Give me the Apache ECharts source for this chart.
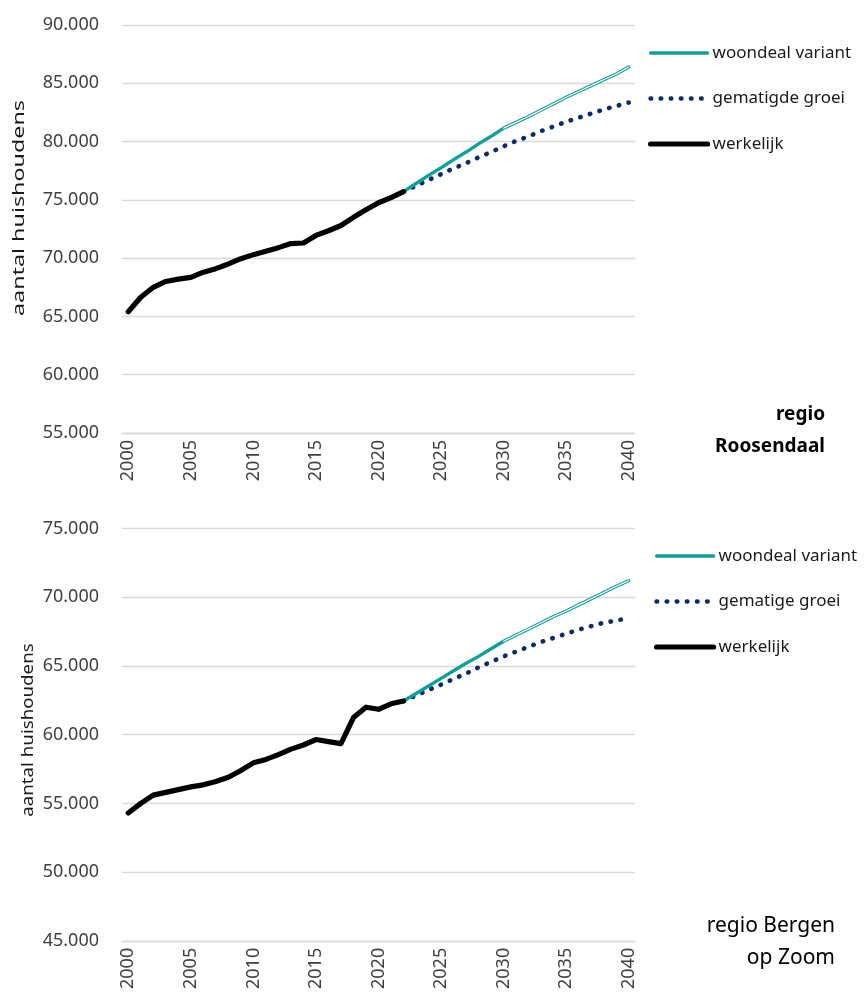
<!DOCTYPE html>
<html>
<head>
<meta charset="utf-8">
<script src="https://cdn.jsdelivr.net/npm/echarts@6/dist/echarts.min.js"></script>
<style>
  html, body { margin: 0; padding: 0; background: #fff; }
  #chart { width: 864px; height: 993px; }
</style>
</head>
<body>
<div id="chart"></div>
<script>
  // categorieen
  const years = [
    '2000', '2001', '2002', '2003', '2004', '2005', '2006', '2007', '2008', '2009',
    '2010', '2011', '2012', '2013', '2014', '2015', '2016', '2017', '2018', '2019',
    '2020', '2021', '2022', '2023', '2024', '2025', '2026', '2027', '2028', '2029',
    '2030', '2031', '2032', '2033', '2034', '2035', '2036', '2037', '2038', '2039', '2040',
  ]

  // regio Roosendaal: werkelijk 2000-2022, prognoses 2022-2040
  const roosWerkelijk = [
    65400, 66650, 67500, 68000, 68200, 68350, 68800, 69100, 69500, 69950,
    70300, 70600, 70900, 71250, 71300, 71950, 72350, 72800, 73500, 74150,
    74750, 75200, 75700,
  ]
  const roosWoondeal = [
    75700, 76400, 77100, 77750, 78450, 79100, 79800, 80450, 81150, 81650,
    82150, 82700, 83250, 83800, 84300, 84800, 85300, 85800, 86400,
  ]
  const roosGematigd = [
    75700, 76200, 76700, 77200, 77700, 78150, 78650, 79100, 79600, 80050,
    80450, 80900, 81300, 81700, 82050, 82400, 82750, 83050, 83350,
  ]

  // regio Bergen op Zoom
  const bozWerkelijk = [
    54300, 55000, 55600, 55800, 56000, 56200, 56350, 56600, 56900, 57400,
    57950, 58200, 58550, 58950, 59250, 59650, 59500, 59350, 61250, 62000,
    61850, 62250, 62450,
  ]
  const bozWoondeal = [
    62450, 63000, 63550, 64100, 64650, 65200, 65700, 66250, 66800, 67250,
    67700, 68150, 68600, 69000, 69450, 69900, 70350, 70800, 71200,
  ]
  const bozGematigd = [
    62450, 62850, 63250, 63650, 64050, 64450, 64900, 65300, 65700, 66050,
    66400, 66750, 67050, 67350, 67650, 67900, 68150, 68300, 68500,
  ]

  // as-instellingen (min, max, stap)
  const roosYTicks = [55000, 90000, 5000]
  const bozYTicks = [45000, 75000, 5000]

  const legendRoos = ['woondeal variant', 'gematigde groei', 'werkelijk']
  const legendBoz = ['woondeal variant', 'gematige groei', 'werkelijk']

  const FONT = '"Noto Sans", "Open Sans", sans-serif'
  const TEAL = '#139e9a'
  const NAVY = '#0b2a66'
  const GRID = '#d9d9d9'

  const PROG_START = years.indexOf('2022')
  const HOLLOW_FROM = years.indexOf('2030') - PROG_START

  function padded(values, startIdx) {
    return new Array(startIdx).fill(null).concat(values)
  }

  function fmtThousands(v) {
    return String(v).replace(/\B(?=(\d{3})+(?!\d))/g, '.')
  }

  function xAxisFor(gridIndex) {
    return {
      type: 'category',
      gridIndex,
      data: years,
      boundaryGap: true,
      axisLine: { show: true, lineStyle: { color: GRID, width: 1.3 } },
      axisTick: { show: false },
      axisLabel: {
        interval: 4,
        rotate: 90,
        margin: 7,
        color: '#404040',
        fontFamily: FONT,
        fontSize: 18,
      },
      splitLine: { show: false },
    }
  }

  function yAxisFor(gridIndex, ticks) {
    return {
      type: 'value',
      gridIndex,
      min: ticks[0],
      max: ticks[1],
      interval: ticks[2],
      axisLine: { show: false },
      axisTick: { show: false },
      axisLabel: {
        margin: 23,
        color: '#404040',
        fontFamily: FONT,
        fontSize: 18,
        formatter: fmtThousands,
      },
      splitLine: { lineStyle: { color: GRID, width: 1.3 } },
    }
  }

  function seriesFor(idx, werkelijk, woondeal, gematigd, gematigdName) {
    return [
      {
        name: 'woondeal variant',
        type: 'line',
        xAxisIndex: idx,
        yAxisIndex: idx,
        data: padded(woondeal, PROG_START),
        symbol: 'none',
        lineStyle: { color: TEAL, width: 3.4, cap: 'round', join: 'round' },
        itemStyle: { color: TEAL },
        z: 3,
      },
      {
        // witte kern: dubbele lijn 2030-2040
        name: 'woondeal hol',
        type: 'line',
        xAxisIndex: idx,
        yAxisIndex: idx,
        data: padded(woondeal.slice(HOLLOW_FROM), PROG_START + HOLLOW_FROM),
        symbol: 'none',
        lineStyle: { color: '#ffffff', width: 1.2, cap: 'round', join: 'round' },
        z: 4,
        silent: true,
      },
      {
        name: gematigdName,
        type: 'line',
        xAxisIndex: idx,
        yAxisIndex: idx,
        data: padded(gematigd, PROG_START),
        symbol: 'none',
        lineStyle: { color: NAVY, width: 4.6, type: [0.5, 9.6], cap: 'round' },
        itemStyle: { color: NAVY },
        z: 2,
      },
      {
        name: 'werkelijk',
        type: 'line',
        xAxisIndex: idx,
        yAxisIndex: idx,
        data: werkelijk,
        symbol: 'none',
        lineStyle: { color: '#000000', width: 5.2, cap: 'round', join: 'round' },
        itemStyle: { color: '#000000' },
        z: 5,
      },
    ]
  }

  function legendFor(left, top, names) {
    return {
      orient: 'vertical',
      left,
      top,
      data: names,
      itemWidth: 57,
      itemHeight: 20,
      itemGap: 25.5,
      selectedMode: false,
      itemStyle: { opacity: 0, borderWidth: 0 },
      lineStyle: { width: 'inherit', type: 'inherit', cap: 'round' },
      textStyle: { color: '#1a1a1a', fontFamily: FONT, fontSize: 17, lineHeight: 20 },
    }
  }

  function axisName(x, y, stretch) {
    return {
      type: 'text',
      x,
      y,
      rotation: Math.PI / 2,
      scaleX: stretch,
      style: {
        text: 'aantal huishoudens',
        align: 'center',
        verticalAlign: 'middle',
        fontFamily: FONT,
        fontSize: 17,
        fill: '#1a1a1a',
      },
    }
  }

  const chart = echarts.init(document.getElementById('chart'), undefined, { renderer: 'canvas' })

  chart.setOption({
    animation: false,
    backgroundColor: '#ffffff',
    grid: [
      { left: 122, top: 25, width: 513, height: 408 },
      { left: 122, top: 528.6, width: 513, height: 412.2 },
    ],
    xAxis: [xAxisFor(0), xAxisFor(1)],
    yAxis: [yAxisFor(0, roosYTicks), yAxisFor(1, bozYTicks)],
    legend: [legendFor(643, 38, legendRoos), legendFor(649, 541, legendBoz)],
    graphic: [
      axisName(19, 208, 1.37),
      axisName(28, 730, 1.1),
      {
        type: 'text',
        x: 825,
        y: 399,
        style: {
          text: 'regio\nRoosendaal',
          align: 'right',
          verticalAlign: 'top',
          lineHeight: 32,
          fontFamily: FONT,
          fontSize: 19,
          fontWeight: 'bold',
          fill: '#000000',
        },
      },
      {
        type: 'text',
        x: 835,
        y: 910,
        style: {
          text: 'regio Bergen\nop Zoom',
          align: 'right',
          verticalAlign: 'top',
          lineHeight: 32,
          fontFamily: FONT,
          fontSize: 21,
          fill: '#000000',
        },
      },
    ],
    series: [
      ...seriesFor(0, roosWerkelijk, roosWoondeal, roosGematigd, 'gematigde groei'),
      ...seriesFor(1, bozWerkelijk, bozWoondeal, bozGematigd, 'gematige groei'),
    ],
  })
</script>
</body>
</html>
